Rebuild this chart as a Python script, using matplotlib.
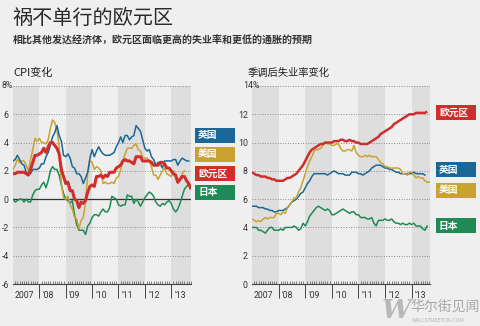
# ==========================================================
# Eurozone: CPI and unemployment vs UK / US / Japan
# ==========================================================

import matplotlib
matplotlib.use("Agg")
import matplotlib.pyplot as plt
from matplotlib.patches import Rectangle
from matplotlib.transforms import blended_transform_factory

plt.rcParams["font.family"] = ["Noto Sans CJK SC", "DejaVu Sans"]

# ==========================================================
# Data (monthly, starting Jan 2007)
# ==========================================================

years = [2007, 2008, 2009, 2010, 2011, 2012, 2013]
year_labels = ["2007", "'08", "'09", "'10", "'11", "'12", "'13"]

# CPI, % change on a year earlier
cpi_uk = [2.7, 2.8, 3.1, 2.8, 2.5, 2.4, 1.9, 1.8, 1.8, 2.1, 2.1, 2.1,
          2.2, 2.5, 2.5, 3.0, 3.3, 3.8, 4.4, 4.7, 5.2, 4.5, 4.1, 3.1,
          3.0, 3.2, 2.9, 2.3, 2.2, 1.8, 1.8, 1.6, 1.1, 1.5, 1.9, 2.9,
          3.5, 3.0, 3.4, 3.7, 3.4, 3.2, 3.1, 3.1, 3.1, 3.2, 3.3, 3.7,
          4.0, 4.4, 4.0, 4.5, 4.5, 4.2, 4.4, 4.5, 5.2, 5.0, 4.8, 4.2,
          3.6, 3.4, 3.5, 3.0, 2.8, 2.4, 2.6, 2.5, 2.2, 2.7, 2.7, 2.7,
          2.7, 2.8, 2.8, 2.4, 2.7, 2.9, 2.8, 2.7, 2.7]
cpi_us = [2.1, 2.4, 2.8, 2.6, 2.7, 2.7, 2.4, 2.0, 2.8, 3.5, 4.3, 4.1,
          4.3, 4.0, 4.0, 3.9, 4.2, 5.0, 5.6, 5.4, 4.9, 3.7, 1.1, 0.1,
          0.0, 0.2, -0.4, -0.7, -1.3, -1.4, -2.1, -1.5, -1.3, -0.2, 1.8, 2.7,
          2.6, 2.1, 2.3, 2.2, 2.0, 1.1, 1.2, 1.1, 1.1, 1.2, 1.1, 1.5,
          1.6, 2.1, 2.7, 3.2, 3.6, 3.6, 3.6, 3.8, 3.9, 3.5, 3.4, 3.0,
          2.9, 2.9, 2.7, 2.3, 1.7, 1.7, 1.4, 1.7, 2.0, 2.2, 1.8, 1.7,
          1.6, 2.0, 1.5, 1.1, 1.4, 1.8, 2.0]
cpi_ez = [1.8, 1.8, 1.9, 1.9, 1.9, 1.9, 1.8, 1.7, 2.1, 2.6, 3.1, 3.1,
          3.2, 3.3, 3.6, 3.3, 3.7, 4.0, 4.0, 3.8, 3.6, 3.2, 2.1, 1.6,
          1.1, 1.2, 0.6, 0.6, 0.0, -0.1, -0.6, -0.2, -0.3, -0.1, 0.5, 0.9,
          1.0, 0.9, 1.6, 1.6, 1.7, 1.5, 1.7, 1.6, 1.9, 1.9, 1.9, 2.2,
          2.3, 2.4, 2.7, 2.8, 2.7, 2.7, 2.6, 2.5, 3.0, 3.0, 3.0, 2.7,
          2.7, 2.7, 2.7, 2.6, 2.4, 2.4, 2.4, 2.6, 2.6, 2.5, 2.2, 2.2,
          2.0, 1.8, 1.7, 1.2, 1.4, 1.6, 1.6, 1.3, 1.1, 0.7]
cpi_jp = [0.0, -0.2, -0.1, 0.0, 0.0, -0.2, 0.0, -0.2, -0.2, 0.3, 0.6, 0.7,
          0.7, 1.0, 1.2, 0.8, 1.3, 2.0, 2.3, 2.1, 2.1, 1.7, 1.0, 0.4,
          0.0, -0.1, -0.3, -0.1, -1.1, -1.8, -2.2, -2.2, -2.2, -2.5, -1.9, -1.7,
          -1.3, -1.1, -1.1, -1.2, -0.9, -0.7, -0.9, -0.9, -0.6, 0.2, 0.1, 0.0,
          -0.4, -0.5, -0.4, -0.4, 0.3, 0.2, 0.2, -0.3, 0.0, -0.2, -0.5, -0.2,
          0.1, 0.3, 0.5, 0.4, 0.2, -0.2, -0.4, -0.5, -0.3, -0.4, -0.2, -0.1,
          -0.3, -0.7, -0.9, -0.7, -0.3, 0.2, 0.7, 0.9, 1.1]

# Seasonally adjusted unemployment rate, %
unemp_ez = [7.9, 7.8, 7.7, 7.7, 7.6, 7.6, 7.6, 7.5, 7.5, 7.4, 7.4, 7.3,
            7.3, 7.3, 7.3, 7.4, 7.5, 7.5, 7.6, 7.7, 7.8, 8.0, 8.2, 8.4,
            8.7, 9.0, 9.3, 9.5, 9.6, 9.7, 9.8, 9.9, 9.9, 10.0, 10.0, 10.0,
            10.0, 10.1, 10.1, 10.1, 10.2, 10.2, 10.1, 10.1, 10.2, 10.1, 10.1, 10.0,
            10.0, 9.9, 9.9, 9.9, 9.9, 10.0, 10.1, 10.2, 10.3, 10.4, 10.6, 10.7,
            10.8, 10.9, 11.0, 11.1, 11.3, 11.4, 11.5, 11.6, 11.7, 11.8, 11.9, 12.0,
            12.0, 12.0, 12.1, 12.1, 12.1, 12.1, 12.1, 12.2]
unemp_uk = [5.5, 5.5, 5.5, 5.4, 5.4, 5.4, 5.3, 5.3, 5.2, 5.2, 5.1, 5.1,
            5.2, 5.2, 5.2, 5.3, 5.4, 5.6, 5.8, 5.9, 6.0, 6.2, 6.4, 6.5,
            6.8, 7.1, 7.3, 7.6, 7.8, 7.8, 7.8, 7.8, 7.8, 7.8, 7.7, 7.8,
            7.9, 8.0, 7.9, 7.8, 7.8, 7.8, 7.7, 7.7, 7.7, 7.9, 7.9, 7.9,
            7.8, 7.8, 7.7, 7.8, 7.9, 8.0, 8.2, 8.3, 8.4, 8.4, 8.4, 8.3,
            8.2, 8.2, 8.1, 8.1, 8.0, 7.9, 7.9, 7.8, 7.8, 7.8, 7.8, 7.8,
            7.8, 7.9, 7.8, 7.8, 7.8, 7.8, 7.7]
unemp_us = [4.6, 4.5, 4.4, 4.5, 4.4, 4.6, 4.7, 4.6, 4.7, 4.7, 4.7, 5.0,
            5.0, 4.9, 5.1, 5.0, 5.4, 5.6, 5.8, 6.1, 6.1, 6.5, 6.8, 7.3,
            7.8, 8.3, 8.7, 9.0, 9.4, 9.5, 9.5, 9.6, 9.8, 10.0, 9.9, 9.9,
            9.8, 9.8, 9.9, 9.9, 9.6, 9.4, 9.4, 9.5, 9.5, 9.4, 9.8, 9.3,
            9.1, 9.0, 9.0, 9.1, 9.0, 9.1, 9.0, 9.0, 9.0, 8.8, 8.6, 8.5,
            8.3, 8.3, 8.2, 8.2, 8.2, 8.2, 8.2, 8.1, 7.8, 7.8, 7.7, 7.9,
            7.9, 7.7, 7.5, 7.6, 7.5, 7.5, 7.3, 7.2, 7.2]
unemp_jp = [4.0, 4.0, 4.0, 3.8, 3.8, 3.7, 3.6, 3.8, 4.0, 4.0, 3.8, 3.8,
            3.8, 3.9, 3.8, 4.0, 4.0, 4.0, 4.0, 4.1, 4.0, 3.8, 3.9, 4.3,
            4.1, 4.4, 4.8, 5.0, 5.2, 5.4, 5.5, 5.4, 5.3, 5.2, 5.3, 5.2,
            4.9, 4.9, 5.0, 5.1, 5.2, 5.3, 5.2, 5.1, 5.0, 5.1, 5.1, 4.9,
            4.9, 4.7, 4.7, 4.7, 4.6, 4.6, 4.7, 4.3, 4.1, 4.5, 4.5, 4.5,
            4.6, 4.5, 4.5, 4.6, 4.4, 4.3, 4.3, 4.2, 4.3, 4.2, 4.2, 4.3,
            4.2, 4.3, 4.1, 4.1, 4.1, 3.9, 3.8, 4.1]

names = ["英国", "美国", "欧元区", "日本"]

# ==========================================================
# Colours
# ==========================================================

bg = "#efefef"
band = "#dedede"
blue = "#1b6798"
gold = "#c9a233"
red = "#cf2f2c"
green = "#1f8a55"

W, H = 480, 326


def fx(px):
    return px / W


def fy(py):
    return 1 - py / H


def months(values):
    return [2007 + i / 12 for i in range(len(values))]


# ==========================================================
# Figure
# ==========================================================

fig = plt.figure(figsize=(4.8, 3.26), dpi=100, facecolor=bg)

ax1 = fig.add_axes([fx(13), fy(284), 178 / W, 198 / H])
ax2 = fig.add_axes([fx(252), fy(284), 178 / W, 198 / H])


def style_axis(ax, ymin, ymax, xend, top_label, top_x):
    ax.set_facecolor(bg)
    ax.set_xlim(2007, xend)
    ax.set_ylim(ymin, ymax)

    for yr in years[::2]:
        ax.axvspan(yr, yr + 1, color=band, lw=0, zorder=0)

    for y in range(ymin + 2, ymax + 1, 2):
        if y != 0:
            ax.axhline(y, color="#8a8a8a", lw=0.7, ls=(0, (1, 1.6)), zorder=1)

    for s in ["top", "left", "right"]:
        ax.spines[s].set_visible(False)
    ax.spines["bottom"].set_color("#444444")
    ax.spines["bottom"].set_linewidth(0.8)

    ax.set_xticks(years[1:])
    ax.set_xticks([2007 + m / 12 for m in range(1, int((xend - 2007) * 12) + 1)], minor=True)
    ax.tick_params(axis="x", which="major", direction="out", length=10,
                   width=0.7, color="#444444", labelbottom=False)
    ax.tick_params(axis="x", which="minor", direction="in", length=2.5,
                   width=0.5, color="#555555")

    trans = blended_transform_factory(ax.transData, ax.transAxes)
    for yr, lab in zip(years, year_labels):
        shift = 0.06 if yr == 2007 else 0.12
        ax.text(yr + shift, -0.056, lab, transform=trans, ha="left", va="center",
                fontsize=6.3, color="#333333", family=["Roboto", "DejaVu Sans"])

    ticks = list(range(ymin, ymax + 1, 2))
    ax.set_yticks(ticks)
    ax.set_yticklabels([str(t) for t in ticks[:-1]] + [""])
    ax.tick_params(axis="y", length=0, pad=3, labelsize=6.3, labelcolor="#333333")
    for lab in ax.get_yticklabels():
        lab.set_family(["Roboto", "DejaVu Sans"])
    ax.text(top_x, ymax, top_label, transform=blended_transform_factory(ax.transAxes, ax.transData),
            ha="left", va="center", fontsize=6.3, color="#333333", family=["Roboto", "DejaVu Sans"])


style_axis(ax1, -6, 8, 2013.75, "8%", -12 / 178)
style_axis(ax2, 0, 14, 2013.69, "14%", -9 / 178)

ax1.axhline(0, color="#333333", lw=0.9, zorder=2)

# ==========================================================
# Lines
# ==========================================================

ax1.plot(months(cpi_jp), cpi_jp, color=green, lw=1.1, zorder=3)
ax1.plot(months(cpi_us), cpi_us, color=gold, lw=1.1, zorder=3)
ax1.plot(months(cpi_uk), cpi_uk, color=blue, lw=1.1, zorder=3)
ax1.plot(months(cpi_ez), cpi_ez, color=red, lw=2.2, zorder=4, solid_capstyle="butt")

ax2.plot(months(unemp_jp), unemp_jp, color=green, lw=1.1, zorder=3)
ax2.plot(months(unemp_uk), unemp_uk, color=blue, lw=1.1, zorder=3)
ax2.plot(months(unemp_us), unemp_us, color=gold, lw=1.1, zorder=3)
ax2.plot(months(unemp_ez), unemp_ez, color=red, lw=1.8, zorder=4, solid_capstyle="butt")

# ==========================================================
# Label boxes
# ==========================================================

colors = [blue, gold, red, green]


def label_box(x0, top, text, color):
    fig.add_artist(Rectangle((fx(x0), fy(top + 15)), 40 / W, 15 / H,
                             transform=fig.transFigure, color=color, lw=0))
    fig.text(fx(x0 + 3), fy(top + 7.5), text, color="white", fontsize=7,
             fontweight="bold", ha="left", va="center")


for name, c, top in zip(names, colors, [128, 147, 166, 185]):
    label_box(195, top, name, c)

for name, c, top in zip(names, colors, [162, 183, 105, 218]):
    label_box(436, top, name, c)

# ==========================================================
# Titles
# ==========================================================

fig.text(fx(12), fy(18), "祸不单行的欧元区", fontsize=14.5, color="#2a2a2a",
         ha="left", va="center")
fig.text(fx(13), fy(41), "相比其他发达经济体，欧元区面临更高的失业率和更低的通胀的预期",
         fontsize=7.2, fontweight="bold", color="#333333", ha="left", va="center")
fig.text(fx(13), fy(73), "CPI变化", fontsize=8, color="#222222", ha="left", va="center")
fig.text(fx(248), fy(73), "季调后失业率变化", fontsize=7.4, color="#222222",
         ha="left", va="center")

# Watermark
fig.text(fx(396), fy(311), "W", fontsize=19, color="#b8b8b8", fontweight="bold",
         style="italic", ha="center", va="center", family=["DejaVu Serif"])
fig.text(fx(410), fy(307), "华尔街见闻", fontsize=10, color="#a8a8a8",
         ha="left", va="center")
fig.text(fx(412), fy(321), "WALLSTREETCN.COM", fontsize=3.6, color="#b4b4b4",
         ha="left", va="center", family=["DejaVu Sans"])

fig.savefig("out.png", dpi=100, facecolor=bg)
print("Saved out.png")
